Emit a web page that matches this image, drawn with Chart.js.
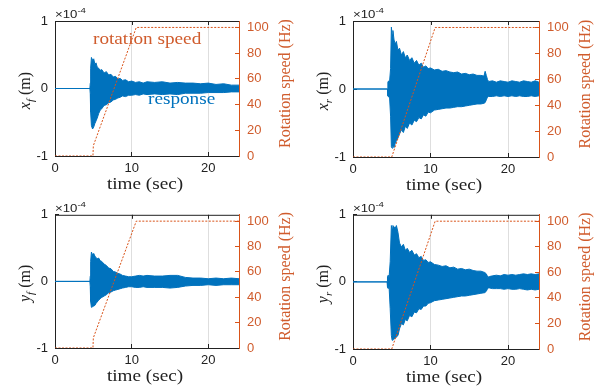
<!DOCTYPE html>
<html>
<head>
<meta charset="utf-8">
<script src="https://cdn.jsdelivr.net/npm/chart.js@4.4.0/dist/chart.umd.min.js"></script>
<style>
  body { margin: 0; background: #fff; }
  #wrap { position: relative; width: 598px; height: 390px; overflow: hidden; }
  canvas { position: absolute; }
</style>
</head>
<body>
<div id="wrap">
  <canvas id="xf" width="298" height="195" style="left:0;top:0"></canvas>
  <canvas id="xr" width="300" height="195" style="left:298px;top:0"></canvas>
  <canvas id="yf" width="298" height="195" style="left:0;top:195px"></canvas>
  <canvas id="yr" width="300" height="195" style="left:298px;top:195px"></canvas>
</div>
<script>
const BLUE = "rgb(0, 114, 189)";
const ORANGE = "rgb(217, 83, 25)";
const NOTE_ORANGE = "rgb(208, 92, 45)";
const DARK = "#222";
const SERIF = '"Liberation Serif", "Times New Roman", serif';
const SANS = '"Liberation Sans", Arial, sans-serif';

// tick labels
const xTicks = [0, 10, 20];
const respTicks = [-1, 0, 1];
const speedTicks = [0, 20, 40, 60, 80, 100];

// response envelopes (x 1e-4 m)
const timeXf = [0, 4.55, 4.6, 4.65, 4.75, 4.9, 5.05, 5.2, 5.35, 5.5, 5.7, 5.9, 6.1, 6.4, 6.7, 7.0, 7.3, 7.6, 7.9, 8.2, 8.5, 8.8, 9.2, 9.6, 10.0, 10.5, 11, 11.5, 12, 13, 14, 15, 16, 17, 18, 19, 20, 21, 22, 23, 24];
const upXf = [0, 0, 0.08, 0.3, 0.46, 0.42, 0.44, 0.36, 0.38, 0.32, 0.3, 0.27, 0.28, 0.23, 0.25, 0.2, 0.21, 0.17, 0.18, 0.14, 0.15, 0.12, 0.13, 0.1, 0.11, 0.09, 0.1, 0.08, 0.1, 0.09, 0.1, 0.08, 0.09, 0.08, 0.08, 0.07, 0.08, 0.06, 0.07, 0.05, 0.05];
const loXf = [0, 0, -0.08, -0.35, -0.55, -0.6, -0.57, -0.52, -0.48, -0.44, -0.37, -0.32, -0.3, -0.25, -0.24, -0.21, -0.2, -0.17, -0.16, -0.14, -0.13, -0.11, -0.12, -0.1, -0.1, -0.09, -0.1, -0.08, -0.09, -0.08, -0.09, -0.08, -0.09, -0.07, -0.07, -0.07, -0.06, -0.06, -0.06, -0.05, -0.05];

const timeXr = [0, 4.45, 4.5, 4.6, 4.7, 4.85, 4.95, 5.05, 5.15, 5.3, 5.45, 5.6, 5.8, 6.0, 6.25, 6.5, 6.75, 7.0, 7.3, 7.6, 7.9, 8.2, 8.5, 8.8, 9.1, 9.4, 9.7, 10.0, 10.5, 11, 11.5, 12, 12.5, 13, 13.5, 14, 14.5, 15, 15.5, 16, 16.5, 16.9, 17.05, 17.2, 17.35, 17.5, 18, 18.5, 19, 19.5, 20, 20.5, 21, 21.5, 22, 22.5, 23, 23.5, 24];
const upXr = [0, 0, 0.1, 0.12, 0.08, 0.3, 0.91, 0.8, 0.86, 0.72, 0.66, 0.7, 0.57, 0.6, 0.5, 0.55, 0.46, 0.5, 0.42, 0.46, 0.38, 0.42, 0.35, 0.38, 0.32, 0.34, 0.3, 0.31, 0.28, 0.29, 0.26, 0.27, 0.25, 0.24, 0.25, 0.22, 0.23, 0.21, 0.22, 0.2, 0.2, 0.19, 0.26, 0.2, 0.14, 0.11, 0.12, 0.1, 0.12, 0.11, 0.1, 0.12, 0.11, 0.1, 0.12, 0.11, 0.1, 0.12, 0.1];
const loXr = [0, 0, -0.1, -0.12, -0.08, -0.4, -0.85, -0.87, -0.84, -0.86, -0.8, -0.76, -0.72, -0.66, -0.6, -0.64, -0.55, -0.58, -0.5, -0.53, -0.46, -0.48, -0.42, -0.44, -0.38, -0.4, -0.34, -0.35, -0.31, -0.3, -0.29, -0.28, -0.28, -0.27, -0.26, -0.26, -0.25, -0.24, -0.23, -0.22, -0.22, -0.21, -0.2, -0.16, -0.12, -0.11, -0.11, -0.1, -0.11, -0.1, -0.11, -0.1, -0.11, -0.1, -0.11, -0.11, -0.1, -0.11, -0.1];

const timeYf = [0, 4.55, 4.6, 4.65, 4.75, 4.9, 5.05, 5.2, 5.35, 5.5, 5.7, 5.9, 6.1, 6.4, 6.7, 7.0, 7.3, 7.6, 7.9, 8.2, 8.5, 8.8, 9.2, 9.6, 10.0, 10.5, 11, 11.5, 12, 13, 14, 15, 16, 17, 18, 19, 20, 21, 22, 23, 24];
const upYf = [0, 0, 0.08, 0.3, 0.44, 0.4, 0.42, 0.38, 0.36, 0.34, 0.35, 0.31, 0.3, 0.26, 0.24, 0.2, 0.19, 0.15, 0.14, 0.12, 0.11, 0.09, 0.08, 0.07, 0.07, 0.08, 0.09, 0.08, 0.09, 0.08, 0.08, 0.09, 0.09, 0.06, 0.05, 0.05, 0.04, 0.05, 0.04, 0.05, 0.04];
const loYf = [0, 0, -0.08, -0.3, -0.39, -0.38, -0.37, -0.36, -0.33, -0.31, -0.28, -0.26, -0.24, -0.22, -0.2, -0.17, -0.16, -0.14, -0.13, -0.12, -0.11, -0.1, -0.09, -0.08, -0.08, -0.09, -0.09, -0.08, -0.09, -0.09, -0.09, -0.1, -0.09, -0.07, -0.06, -0.06, -0.05, -0.06, -0.05, -0.05, -0.05];

const timeYr = [0, 4.4, 4.45, 4.55, 4.65, 4.8, 4.95, 5.05, 5.15, 5.3, 5.45, 5.6, 5.8, 6.0, 6.25, 6.5, 6.75, 7.0, 7.3, 7.6, 7.9, 8.2, 8.5, 8.8, 9.1, 9.4, 9.7, 10.0, 10.5, 11, 11.5, 12, 12.5, 13, 13.5, 14, 14.5, 15, 15.5, 16, 16.5, 17.0, 17.2, 17.4, 17.6, 18, 18.5, 19, 19.5, 20, 20.5, 21, 21.5, 22, 22.5, 23, 23.5, 24];
const upYr = [0, 0, 0.08, 0.1, 0.06, 0.3, 0.84, 0.8, 0.84, 0.82, 0.8, 0.84, 0.74, 0.58, 0.52, 0.56, 0.47, 0.5, 0.44, 0.47, 0.4, 0.42, 0.36, 0.38, 0.32, 0.33, 0.29, 0.3, 0.26, 0.25, 0.23, 0.24, 0.21, 0.22, 0.19, 0.2, 0.18, 0.19, 0.17, 0.16, 0.16, 0.14, 0.12, 0.07, 0.08, 0.09, 0.1, 0.09, 0.11, 0.1, 0.11, 0.1, 0.11, 0.12, 0.11, 0.12, 0.11, 0.12];
const loYr = [0, 0, -0.08, -0.1, -0.06, -0.4, -0.8, -0.87, -0.86, -0.85, -0.84, -0.82, -0.8, -0.7, -0.62, -0.64, -0.56, -0.58, -0.5, -0.52, -0.45, -0.46, -0.4, -0.41, -0.36, -0.36, -0.32, -0.31, -0.28, -0.27, -0.26, -0.25, -0.24, -0.23, -0.22, -0.21, -0.21, -0.2, -0.19, -0.18, -0.17, -0.16, -0.14, -0.09, -0.09, -0.1, -0.1, -0.1, -0.11, -0.1, -0.11, -0.11, -0.1, -0.11, -0.12, -0.11, -0.12, -0.11];

// rotation speed (Hz)
const speedTimeF = [0, 4.95, 5.0, 10.6, 24];
const speedF = [0, 0, 8, 100, 100];
const speedTimeR = [0, 5.0, 10.6, 24];
const speedR = [0, 0, 100, 100];

const toPoints = (xs, ys) => xs.map((x, i) => ({ x: x, y: ys[i] }));

const wideText = (ctx, text, x, y, sx) => {
  ctx.save();
  ctx.translate(x, y);
  ctx.scale(sx, 1);
  ctx.fillText(text, 0, 0);
  ctx.restore();
};

const decorations = (cfg) => ({
  id: "decorations",
  afterDraw: (chart) => {
    const ctx = chart.ctx;
    const a = chart.chartArea;
    const xs = chart.scales.x;
    ctx.save();

    // top of the box with mirrored ticks
    ctx.strokeStyle = DARK;
    ctx.lineWidth = 1;
    ctx.beginPath();
    ctx.moveTo(a.left, a.top + 0.5);
    ctx.lineTo(a.right, a.top + 0.5);
    xTicks.forEach((v) => {
      const px = Math.round(xs.getPixelForValue(v)) + 0.5;
      ctx.moveTo(px, a.top);
      ctx.lineTo(px, a.top + 4);
    });
    ctx.stroke();

    // exponent
    ctx.fillStyle = DARK;
    ctx.textBaseline = "alphabetic";
    ctx.font = "11px " + SANS;
    wideText(ctx, "\u00d710", a.left, a.top - 3, 1.2);
    const w10 = ctx.measureText("\u00d710").width * 1.2;
    ctx.font = "8px " + SANS;
    wideText(ctx, "-4", a.left + w10, a.top - 8, 1.2);

    // x title
    ctx.font = "16px " + SERIF;
    ctx.textAlign = "center";
    wideText(ctx, "time (sec)", (a.left + a.right) / 2 - 2, a.bottom + 33, 1.2);

    // left y title
    ctx.save();
    ctx.translate(25, (a.top + a.bottom) / 2 + 2);
    ctx.rotate(-Math.PI / 2);
    ctx.textAlign = "left";
    ctx.font = "italic 16px " + SERIF;
    const wMain = ctx.measureText(cfg.letter).width;
    ctx.font = "italic 11px " + SERIF;
    const wSub = ctx.measureText(cfg.sub).width;
    ctx.font = "16px " + SERIF;
    const wUnit = ctx.measureText(" (m)").width;
    let px = -(wMain + wSub + wUnit) / 2;
    ctx.font = "italic 16px " + SERIF;
    ctx.fillText(cfg.letter, px, 5);
    px += wMain;
    ctx.font = "italic 11px " + SERIF;
    ctx.fillText(cfg.sub, px, 9);
    px += wSub;
    ctx.font = "16px " + SERIF;
    ctx.fillText(" (m)", px, 5);
    ctx.restore();

    // right y title
    ctx.save();
    ctx.translate(a.right + 47, (a.top + a.bottom) / 2 - 5);
    ctx.rotate(-Math.PI / 2);
    ctx.textAlign = "center";
    ctx.textBaseline = "middle";
    ctx.fillStyle = NOTE_ORANGE;
    ctx.font = "16px " + SERIF;
    ctx.fillText("Rotation speed (Hz)", 0, 0);
    ctx.restore();

    // in-plot notes
    if (cfg.notes) {
      ctx.textAlign = "left";
      ctx.font = "16px " + SERIF;
      ctx.fillStyle = NOTE_ORANGE;
      wideText(ctx, "rotation speed", 93, 44, 1.2);
      ctx.fillStyle = BLUE;
      wideText(ctx, "response", 148, 104, 1.2);
    }
    ctx.restore();
  },
});

const drawPanel = (id, cfg) => {
  const canvas = document.getElementById(id);
  const W = canvas.width;
  const H = canvas.height;

  new Chart(canvas, {
    type: "line",
    data: {
      datasets: [
        {
          label: "rotation speed",
          data: toPoints(cfg.speedTime, cfg.speed),
          yAxisID: "yR",
          borderColor: ORANGE,
          borderWidth: 1,
          borderDash: [2, 1.5],
          pointRadius: 0,
          fill: false,
        },
        {
          label: "response",
          data: toPoints(cfg.time, cfg.up),
          yAxisID: "y",
          borderColor: BLUE,
          backgroundColor: BLUE,
          borderWidth: 1,
          pointRadius: 0,
          fill: "+1",
        },
        {
          label: "response low",
          data: toPoints(cfg.time, cfg.lo),
          yAxisID: "y",
          borderColor: BLUE,
          borderWidth: 1,
          pointRadius: 0,
          fill: false,
        },
      ],
    },
    options: {
      responsive: false,
      animation: false,
      events: [],
      layout: { padding: { top: cfg.top, left: 0, right: 0, bottom: 0 } },
      plugins: { legend: { display: false }, tooltip: { enabled: false } },
      scales: {
        x: {
          type: "linear",
          min: 0,
          max: 24,
          afterBuildTicks: (scale) => {
            scale.ticks = xTicks.map((v) => ({ value: v }));
          },
          afterFit: (scale) => {
            scale.height = H - cfg.bottom;
          },
          grid: {
            color: "rgb(222, 222, 222)",
            tickColor: DARK,
            tickLength: -4,
          },
          border: { color: DARK, width: 1 },
          ticks: {
            padding: 9,
            color: DARK,
            font: { family: SANS, size: 13 },
            maxRotation: 0,
            callback: (v) => String(v),
          },
        },
        y: {
          position: "left",
          min: -1,
          max: 1,
          afterBuildTicks: (scale) => {
            scale.ticks = respTicks.map((v) => ({ value: v }));
          },
          afterFit: (scale) => {
            scale.width = 55;
          },
          grid: { drawOnChartArea: false, tickColor: DARK, tickLength: -4 },
          border: { color: DARK, width: 1 },
          ticks: {
            padding: 11,
            color: DARK,
            font: { family: SANS, size: 13 },
            callback: (v) => String(v),
          },
        },
        yR: {
          position: "right",
          min: 0,
          max: 105,
          afterBuildTicks: (scale) => {
            scale.ticks = speedTicks.map((v) => ({ value: v }));
          },
          afterFit: (scale) => {
            scale.width = W - cfg.right;
          },
          grid: { drawOnChartArea: false, tickColor: ORANGE, tickLength: -4 },
          border: { color: ORANGE, width: 1 },
          ticks: {
            padding: 12,
            color: NOTE_ORANGE,
            font: { family: SANS, size: 13 },
            callback: (v) => String(v),
          },
        },
      },
    },
    plugins: [decorations(cfg)],
  });
};

drawPanel("xf", {
  time: timeXf, up: upXf, lo: loXf,
  speedTime: speedTimeF, speed: speedF,
  letter: "x", sub: "f", notes: true,
  top: 21, bottom: 156, right: 239,
});
drawPanel("xr", {
  time: timeXr, up: upXr, lo: loXr,
  speedTime: speedTimeR, speed: speedR,
  letter: "x", sub: "r", notes: false,
  top: 21, bottom: 157, right: 241,
});
drawPanel("yf", {
  time: timeYf, up: upYf, lo: loYf,
  speedTime: speedTimeF, speed: speedF,
  letter: "y", sub: "f", notes: false,
  top: 18, bottom: 153, right: 239,
});
drawPanel("yr", {
  time: timeYr, up: upYr, lo: loYr,
  speedTime: speedTimeR, speed: speedR,
  letter: "y", sub: "r", notes: false,
  top: 18, bottom: 154, right: 241,
});
</script>
</body>
</html>
